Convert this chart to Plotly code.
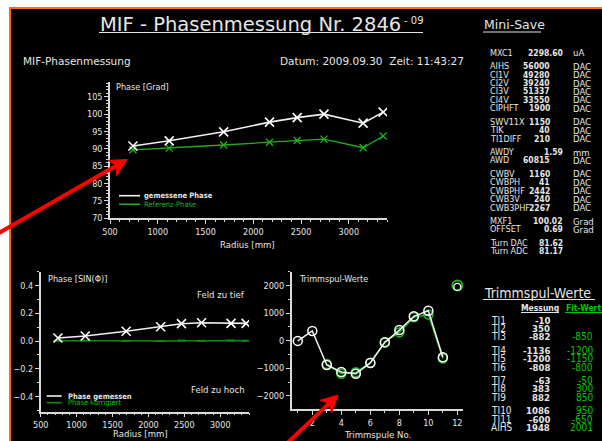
import math
import plotly.graph_objects as go

W, H = 602, 441

# ---------------- data ----------------
radius = [740, 1120, 1690, 2170, 2460, 2740, 3150, 3360]
phase_measured = [90.8, 92.3, 94.9, 97.7, 99.0, 100.0, 97.4, 100.6]
phase_reference = [89.7, 90.2, 91.1, 91.9, 92.4, 92.8, 90.3, 93.7]
sin_measured = [0.022, 0.036, 0.070, 0.103, 0.125, 0.132, 0.127, 0.127]
sin_corrected = [0.002, 0.003, 0.001, 0.000, 0.003, 0.002, 0.003, 0.001]

trim_labels = ["TI1", "TI2", "TI3", "TI4", "TI5", "TI6", "TI7", "TI8", "TI9", "TI10", "TI11", "AIHS"]
trim_measured = [-10, 350, -882, -1136, -1200, -808, -63, 383, 882, 1086, -600, 1948]
trim_fit = [None, None, -850, -1200, -1150, -800, -50, 300, 850, 950, -650, 2001]
trim_groups = [3, 3, 3, 3]

mini_labels = ["MXC1", "AIHS", "CI1V", "CI2V", "CI3V", "CI4V", "CIPHFT", "SWV11X", "TIK", "TI1DIFF",
               "AWDY", "AWD", "CWBV", "CWBPH", "CWBPHF", "CWB3V", "CWB3PHF", "MXF1", "OFFSET",
               "Turn DAC", "Turn ADC"]
mini_values = ["2298.60", "56000", "49280", "39240", "51337", "33550", "1900", "1150", "40", "210",
               "1.59", "60815", "1160", "41", "2442", "240", "2267", "100.02", "0.69", "81.62", "81.17"]
mini_units = ["uA", "DAC", "DAC", "DAC", "DAC", "DAC", "DAC", "DAC", "DAC", "DAC",
              "mm", "DAC", "DAC", "DAC", "DAC", "DAC", "DAC", "Grad", "Grad", "", ""]
mini_groups = [1, 6, 3, 2, 5, 2, 2]

radius_ticks = [500, 1000, 1500, 2000, 2500, 3000]

# ---------------- style ----------------
FONT = "DejaVu Sans Condensed, Liberation Sans Narrow, DejaVu Sans, sans-serif"
FONT_W = "DejaVu Sans, sans-serif"
FG = "#e6e6e6"
AX = "#d8d8d8"
GREEN = "#22b022"
DGREEN = "#108a10"
BRIGHT_GREEN = "#00c800"
RED = "#ff0000"


def px(x):
    return x / W


def py(y):
    return 1 - y / H


fig = go.Figure()

# top chart
fig.add_trace(go.Scatter(x=radius, y=phase_reference, mode="lines+markers", xaxis="x", yaxis="y",
                         line=dict(color=GREEN, width=1.3),
                         marker=dict(symbol="x-thin", size=7, line=dict(color=GREEN, width=1.3))))
fig.add_trace(go.Scatter(x=radius, y=phase_measured, mode="lines+markers", xaxis="x", yaxis="y",
                         line=dict(color="#f0f0f0", width=1.6),
                         marker=dict(symbol="x-thin", size=9, line=dict(color="#ffffff", width=1.6))))

# bottom left chart
fig.add_trace(go.Scatter(x=radius, y=sin_corrected, mode="lines+markers", xaxis="x2", yaxis="y2",
                         line=dict(color=DGREEN, width=1.5),
                         marker=dict(symbol="line-ew", size=6, line=dict(color=DGREEN, width=2))))
fig.add_trace(go.Scatter(x=radius, y=sin_measured, mode="lines+markers", xaxis="x2", yaxis="y2",
                         line=dict(color="#f0f0f0", width=1.6),
                         marker=dict(symbol="x-thin", size=9, line=dict(color="#ffffff", width=1.6))))

# bottom right chart
coil_no = list(range(1, len(trim_labels) + 1))
n_line = len(trim_labels) - 1
fit_x = [c for c, v in zip(coil_no[:n_line], trim_fit[:n_line]) if v is not None]
fit_y = [v for v in trim_fit[:n_line] if v is not None]
fig.add_trace(go.Scatter(x=fit_x, y=fit_y, mode="lines+markers", xaxis="x3", yaxis="y3",
                         line=dict(color=GREEN, width=1.4),
                         marker=dict(symbol="circle-open", size=9, color=GREEN, line=dict(width=1.6))))
fig.add_trace(go.Scatter(x=[coil_no[-1]], y=[trim_fit[-1]], mode="markers", xaxis="x3", yaxis="y3",
                         marker=dict(symbol="circle-open", size=10, color=GREEN, line=dict(width=2))))
fig.add_trace(go.Scatter(x=coil_no[:n_line], y=trim_measured[:n_line], mode="lines+markers",
                         xaxis="x3", yaxis="y3",
                         line=dict(color="#f0f0f0", width=1.5),
                         marker=dict(symbol="circle-open", size=9, color="#ffffff", line=dict(width=1.5))))
fig.add_trace(go.Scatter(x=[coil_no[-1]], y=[trim_measured[-1]], mode="markers", xaxis="x3", yaxis="y3",
                         marker=dict(symbol="circle-open", size=7, color="#ffffff", line=dict(width=1.3))))

axis_common = dict(showline=True, linecolor=AX, linewidth=1.5, showgrid=False, zeroline=False,
                   automargin=False,
                   ticks="outside", ticklen=4, tickwidth=1, tickcolor=AX,
                   tickfont=dict(family=FONT, size=9, color=FG))


def minor(dt):
    return dict(dtick=dt, ticks="outside", ticklen=2, tickwidth=1, tickcolor=AX)


fig.update_layout(
    width=W, height=H, margin=dict(l=0, r=0, t=0, b=0, autoexpand=False),
    paper_bgcolor="white", plot_bgcolor="rgba(0,0,0,0)", showlegend=False,
    xaxis=dict(domain=[px(110), px(387)], anchor="y", range=[500, 3400],
               tickvals=radius_ticks, minor=minor(100), **axis_common),
    yaxis=dict(domain=[py(218), py(82)], anchor="x", range=[70, 109.3], tick0=70, dtick=5,
               minor=minor(1), **axis_common),
    xaxis2=dict(domain=[px(40.7), px(249)], anchor="y2", range=[500, 3400],
                tickvals=radius_ticks, minor=minor(100), **axis_common),
    yaxis2=dict(domain=[py(411.7), py(271.7)], anchor="x2", range=[-0.51, 0.5], tick0=0, dtick=0.2,
                tickformat=".1f", minor=minor(0.1), **axis_common),
    xaxis3=dict(domain=[px(291.7), px(463.3)], anchor="y3", range=[0.58, 12.41], tick0=0, dtick=2,
                minor=minor(1), **axis_common),
    yaxis3=dict(domain=[py(409.3), py(271.7)], anchor="x3", range=[-2490, 2500], tick0=0, dtick=1000,
                minor=minor(500), **axis_common),
)

shapes = []
# black panel with orange frame
shapes.append(dict(type="rect", xref="paper", yref="paper", x0=px(10), x1=px(W + 5), y0=py(H + 5), y1=py(8),
                   fillcolor="black", line=dict(color="#ff6a10", width=2), layer="below"))


def hline(x0, x1, y, color, width=1.0):
    shapes.append(dict(type="line", xref="paper", yref="paper", x0=px(x0), x1=px(x1), y0=py(y), y1=py(y),
                       line=dict(color=color, width=width)))


def arrow(tip, tail, head_len=19.0, half_angle=27.0, width=4.0):
    dx, dy = tip[0] - tail[0], tip[1] - tail[1]
    L = math.hypot(dx, dy)
    ux, uy = dx / L, dy / L
    notch = (tip[0] - 12 * ux, tip[1] - 12 * uy)
    shapes.append(dict(type="line", xref="paper", yref="paper",
                       x0=px(tail[0]), y0=py(tail[1]), x1=px(notch[0] + 2 * ux), y1=py(notch[1] + 2 * uy),
                       line=dict(color=RED, width=width)))
    a = math.radians(half_angle)
    pts = []
    for s in (1, -1):
        cx = ux * math.cos(s * a) - uy * math.sin(s * a)
        cy = ux * math.sin(s * a) + uy * math.cos(s * a)
        pts.append((tip[0] - head_len * cx, tip[1] - head_len * cy))
    poly = [tip, pts[0], notch, pts[1]]
    path = "M " + " L ".join("%.5f,%.5f" % (px(x), py(y)) for x, y in poly) + " Z"
    shapes.append(dict(type="path", xref="paper", yref="paper", path=path,
                       fillcolor=RED, line=dict(color=RED, width=1)))


annotations = []


def txt(x, y, s, size=9, color=FG, anchor="left", family=FONT):
    annotations.append(dict(x=px(x), y=py(y), xref="paper", yref="paper", text=s, showarrow=False,
                            xanchor=anchor, yanchor="middle", borderpad=0,
                            font=dict(family=family, size=size, color=color)))


# header
txt(99, 25, "MIF\u00a0-\u00a0Phasenmessung\u00a0Nr.\u00a02846", size=19.5, family=FONT_W)
txt(403, 20, "-\u00a009", size=10, family=FONT_W)
hline(99, 423, 32.5, FG, 1.2)
txt(22, 60.5, "MIF-Phasenmessung", size=10.5, family=FONT_W)
txt(465, 60.5, "Datum: 2009.09.30\u00a0\u00a0Zeit: 11:43:27", size=10.5, anchor="right", family=FONT_W)

# top chart labels
txt(115, 87.5, "Phase [Grad]", size=9)
txt(247, 244, "Radius [mm]", size=9.5, anchor="center")
hline(119, 140, 195.7, "#f0f0f0", 1.6)
hline(119, 140, 204.3, GREEN, 1.6)
txt(142.5, 195.7, "<b>gemessene Phase</b>", size=7.5)
txt(142.5, 204.3, "Referenz-Phase", size=7.5, color=GREEN)

# bottom left labels
txt(46.5, 278.5, "Phase [SIN(Φ)]", size=9)
txt(246, 294.5, "Feld zu tief", size=9.5, anchor="right")
txt(246, 389, "Feld zu hoch", size=9.5, anchor="right")
txt(140, 433.5, "Radius [mm]", size=9.5, anchor="center")
hline(46.7, 61.7, 396, "#f0f0f0", 1.6)
hline(46.7, 61.7, 402.7, DGREEN, 1.6)
txt(66.5, 396, "<b>Phase gemessen</b>", size=7.5)
txt(66.5, 402.7, "Phase korrigiert", size=7.5, color=BRIGHT_GREEN)

# bottom right labels
txt(298, 279, "Trimmspul-Werte", size=9)
txt(377, 434, "Trimmspule No.", size=9.5, anchor="center")

# Mini-Save panel
txt(483, 25, "Mini-Save", size=12.5, family=FONT_W)
hline(483, 541, 32, FG, 1.2)
row_y = []
y = 52.7
for gi, g in enumerate(mini_groups):
    if gi > 0:
        y += 13.5
    for k in range(g):
        if k > 0:
            y += 8.4
        row_y.append(y)
for lab, val, unit, yy in zip(mini_labels, mini_values, mini_units, row_y):
    txt(489, yy, lab, size=9)
    txt(564 if "." in val else 551, yy, "<b>" + val + "</b>", size=8.5, anchor="right")
    if unit:
        txt(571.5, yy, unit, size=9.5)

# Trimmspul-Werte panel
txt(483, 292.5, "Trimmspul-Werte", size=14)
hline(483, 595, 299.5, FG, 1.2)
txt(540, 308, "<b>Messung</b>", size=8.5, anchor="center")
hline(521, 559, 312.5, FG, 1)
txt(565, 308, "<b>Fit-Wert</b>", size=8.5, color=BRIGHT_GREEN)
hline(565, 602, 312.5, BRIGHT_GREEN, 1)
trow_y = []
y = 320
for gi, g in enumerate(trim_groups):
    if gi > 0:
        y += 13.5
    for k in range(g):
        if k > 0:
            y += 8.4
        trow_y.append(y)
for lab, m, f, yy in zip(trim_labels, trim_measured, trim_fit, trow_y):
    txt(490, yy, lab, size=10)
    txt(551, yy, "<b>%d</b>" % m, size=9.5, anchor="right")
    if f is not None:
        txt(594, yy, "%d" % f, size=10, color=BRIGHT_GREEN, anchor="right")

# red arrows
arrow((127, 159.5), (-15, 241))
arrow((338, 395), (280, 450))

fig.update_layout(shapes=shapes, annotations=annotations)
fig.write_html("out.html")
